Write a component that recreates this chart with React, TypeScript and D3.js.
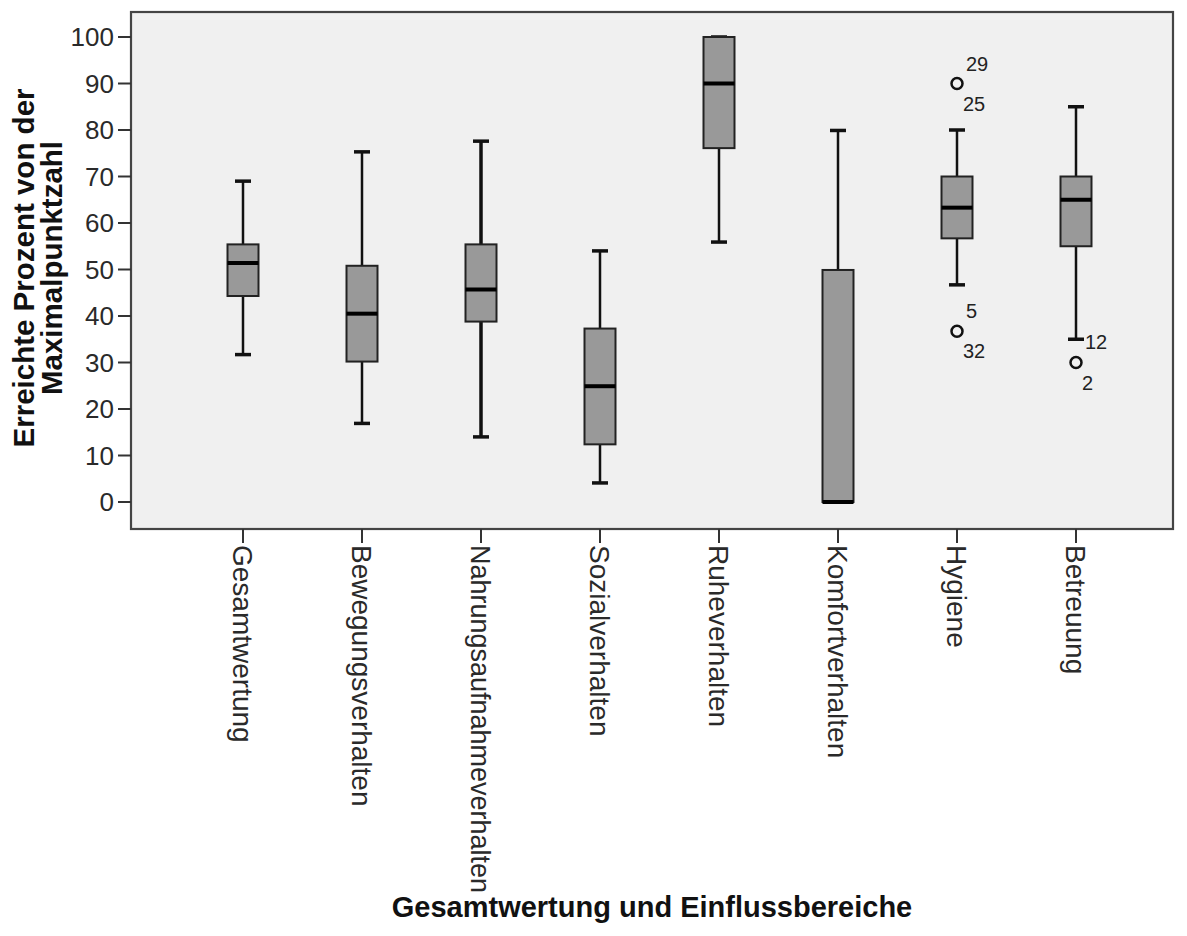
import React, { useLayoutEffect, useRef } from "react";
import * as d3 from "d3";

const categories = [
  "Gesamtwertung",
  "Bewegungsverhalten",
  "Nahrungsaufnahmeverhalten",
  "Sozialverhalten",
  "Ruheverhalten",
  "Komfortverhalten",
  "Hygiene",
  "Betreuung",
];
const whiskerLow = [31.7, 16.9, 14.0, 4.1, 55.9, 0, 46.7, 35];
const q1 = [44.3, 30.2, 38.8, 12.4, 76.1, 0, 56.7, 55];
const median = [51.4, 40.5, 45.7, 24.9, 90, 0, 63.3, 65];
const q3 = [55.4, 50.8, 55.4, 37.3, 100, 49.9, 70, 70];
const whiskerHigh = [69.0, 75.3, 77.6, 54.0, 100, 79.9, 80, 85];

// outliers: category, value, case labels above / below the circle
const outlierCats = ["Hygiene", "Hygiene", "Betreuung"];
const outlierValues = [90, 36.7, 30];
const outlierLabelAbove = ["29", "5", ""];
const outlierLabelBelow = ["25", "32", "2"];
// case label shown beside a whisker end
const whiskerLabelCats = ["Betreuung"];
const whiskerLabelValues = [35];
const whiskerLabelTexts = ["12"];

const yTicks = [0, 10, 20, 30, 40, 50, 60, 70, 80, 90, 100];
const yTitleLines = ["Erreichte Prozent von der", "Maximalpunktzahl"];
const xTitle = "Gesamtwertung und Einflussbereiche";

const W = 1187;
const H = 936;
const frame = { left: 131, top: 12, right: 1173, bottom: 529 };
const FONT = "'Liberation Sans', Arial, sans-serif";
const MAX_LABEL_LEN = 348;

export default function App() {
  const y = d3.scaleLinear().domain([0, 100]).range([502, 37]);
  const x = d3
    .scalePoint<string>()
    .domain(categories)
    .range([243, 243 + 119 * (categories.length - 1)]);

  const boxW = 31;
  const capW = 16;
  const thick = "Nahrungsaufnahmeverhalten";
  const labelsRef = useRef<SVGGElement>(null);

  useLayoutEffect(() => {
    if (!labelsRef.current) return;
    d3.select(labelsRef.current)
      .selectAll<SVGTextElement, unknown>("text")
      .each(function () {
        const len = this.getComputedTextLength();
        if (len > MAX_LABEL_LEN) {
          this.setAttribute("textLength", String(MAX_LABEL_LEN));
          this.setAttribute("lengthAdjust", "spacingAndGlyphs");
        }
      });
  }, []);

  return (
    <svg
      width={W}
      height={H}
      style={{ position: "absolute", left: 0, top: 0, background: "#fff" }}
      fontFamily={FONT}
    >
      <rect
        x={frame.left}
        y={frame.top}
        width={frame.right - frame.left}
        height={frame.bottom - frame.top}
        fill="#f0f0f0"
        stroke="#444"
        strokeWidth={2.2}
      />
      {/* y ticks */}
      {yTicks.map((t) => (
        <g key={t}>
          <line x1={118} x2={frame.left} y1={y(t)} y2={y(t)} stroke="#333" strokeWidth={2} />
          <text
            x={114}
            y={y(t)}
            textAnchor="end"
            dominantBaseline="central"
            fontSize={26}
            fill="#2a2a2a"
          >
            {t}
          </text>
        </g>
      ))}
      {/* x ticks and labels */}
      {categories.map((c) => (
        <line
          key={c}
          x1={x(c)!}
          x2={x(c)!}
          y1={frame.bottom}
          y2={frame.bottom + 14}
          stroke="#333"
          strokeWidth={2}
        />
      ))}
      <g ref={labelsRef}>
        {categories.map((c) => (
          <text
            key={c}
            transform={`translate(${x(c)! - 1},${frame.bottom + 16}) rotate(90)`}
            textAnchor="start"
            dominantBaseline="central"
            fontSize={28}
            fill="#2a2a2a"
          >
            {c}
          </text>
        ))}
      </g>
      {/* boxes */}
      {categories.map((c, i) => {
        const cx = x(c)!;
        const sw = c === thick ? 3.5 : 2.5;
        return (
          <g key={c}>
            <line x1={cx} x2={cx} y1={y(whiskerHigh[i])} y2={y(q3[i])} stroke="#111" strokeWidth={sw} />
            <line x1={cx} x2={cx} y1={y(q1[i])} y2={y(whiskerLow[i])} stroke="#111" strokeWidth={sw} />
            <line
              x1={cx - capW / 2}
              x2={cx + capW / 2}
              y1={y(whiskerHigh[i])}
              y2={y(whiskerHigh[i])}
              stroke="#111"
              strokeWidth={3.5}
            />
            <line
              x1={cx - capW / 2}
              x2={cx + capW / 2}
              y1={y(whiskerLow[i])}
              y2={y(whiskerLow[i])}
              stroke="#111"
              strokeWidth={3.5}
            />
            <rect
              x={cx - boxW / 2}
              y={y(q3[i])}
              width={boxW}
              height={Math.max(0, y(q1[i]) - y(q3[i]))}
              fill="#999"
              stroke="#222"
              strokeWidth={2}
            />
            <line
              x1={cx - boxW / 2}
              x2={cx + boxW / 2}
              y1={y(median[i])}
              y2={y(median[i])}
              stroke="#000"
              strokeWidth={4}
            />
          </g>
        );
      })}
      {/* outliers */}
      {outlierCats.map((c, i) => {
        const cx = x(c)!;
        const cy = y(outlierValues[i]);
        return (
          <g key={i}>
            <circle cx={cx} cy={cy} r={5.5} fill="none" stroke="#111" strokeWidth={2.5} />
            {outlierLabelAbove[i] && (
              <text x={cx + 9} y={cy - 20} dominantBaseline="central" fontSize={20} fill="#222">
                {outlierLabelAbove[i]}
              </text>
            )}
            {outlierLabelBelow[i] && (
              <text x={cx + 6} y={cy + 20} dominantBaseline="central" fontSize={20} fill="#222">
                {outlierLabelBelow[i]}
              </text>
            )}
          </g>
        );
      })}
      {whiskerLabelCats.map((c, i) => (
        <text
          key={i}
          x={x(c)! + 9}
          y={y(whiskerLabelValues[i]) + 3}
          dominantBaseline="central"
          fontSize={20}
          fill="#222"
        >
          {whiskerLabelTexts[i]}
        </text>
      ))}
      {/* axis titles */}
      <text
        transform={`translate(34,268) rotate(-90)`}
        textAnchor="middle"
        fontSize={29.5}
        fontWeight="bold"
        fill="#111"
      >
        {yTitleLines[0]}
      </text>
      <text
        transform={`translate(62,268) rotate(-90)`}
        textAnchor="middle"
        fontSize={29.5}
        fontWeight="bold"
        fill="#111"
      >
        {yTitleLines[1]}
      </text>
      <text x={652} y={917} textAnchor="middle" fontSize={29} fontWeight="bold" fill="#111">
        {xTitle}
      </text>
    </svg>
  );
}
